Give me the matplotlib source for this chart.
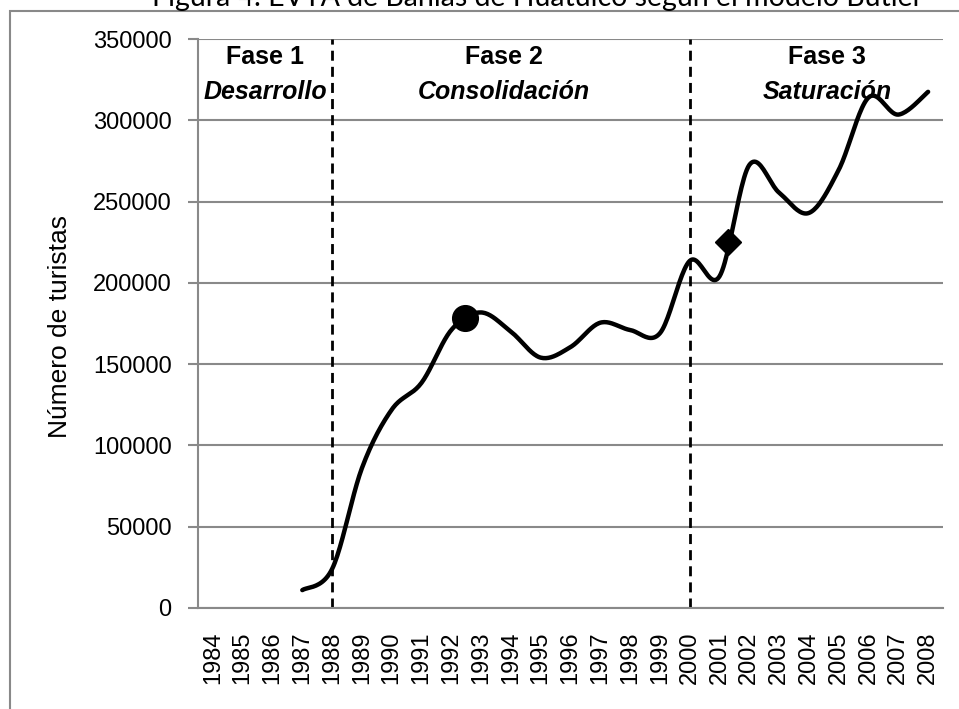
import matplotlib.pyplot as plt
from matplotlib.patches import Rectangle
import numpy as np

plt.rcParams['font.family'] = ['Liberation Sans', 'DejaVu Sans']

# Data: tourists per year
years = [str(y) for y in range(1984, 2009)]
turistas = [np.nan, np.nan, np.nan, 11000, 24000, 86000, 122000, 138500,
            171000, 181800, 170000, 154000, 160500, 175500, 171000, 169000,
            213500, 204000, 272500, 255500, 243000, 269500, 314000, 303500,
            317500]

# phase limits (category index) and labels
fase_limites = [4, 16]
fase_titulos = ['Fase 1', 'Fase 2', 'Fase 3']
fase_nombres = ['Desarrollo', 'Consolidación', 'Saturación']
fase_x = [1.75, 9.75, 20.6]

# marked points (category position, value)
circulo = (8.46, 178500)
rombo = (17.3, 225000)

yticks = [0, 50000, 100000, 150000, 200000, 250000, 300000, 350000]
grey = '#898989'

fig = plt.figure(figsize=(9.59, 7.09), dpi=100)
W, H = 959, 709
ax = fig.add_axes([198 / W, 1 - 608 / H, (943 - 198) / W, (608 - 39) / H])

# chart-area frame (cut by the image edges)
fig.patches.append(Rectangle((10 / W, -0.1), 1.2, 1 - 11 / H + 0.1,
                             transform=fig.transFigure, fill=False,
                             edgecolor=grey, linewidth=1.5))


# Excel-like smoothed line (Catmull-Rom Bezier)
def suavizar(xs, ys, n=24):
    px, py = [], []
    m = len(xs)
    for i in range(m - 1):
        x0, y0 = (xs[i - 1], ys[i - 1]) if i > 0 else (xs[i], ys[i])
        x1, y1 = xs[i], ys[i]
        x2, y2 = xs[i + 1], ys[i + 1]
        x3, y3 = (xs[i + 2], ys[i + 2]) if i + 2 < m else (x2, y2)
        c1x, c1y = x1 + (x2 - x0) / 6, y1 + (y2 - y0) / 6
        c2x, c2y = x2 - (x3 - x1) / 6, y2 - (y3 - y1) / 6
        t = np.linspace(0, 1, n)
        b0, b1, b2, b3 = (1 - t) ** 3, 3 * t * (1 - t) ** 2, 3 * t ** 2 * (1 - t), t ** 3
        px.extend(b0 * x1 + b1 * c1x + b2 * c2x + b3 * x2)
        py.extend(b0 * y1 + b1 * c1y + b2 * c2y + b3 * y2)
    return px, py


idx = [i for i, v in enumerate(turistas) if not np.isnan(v)]
vals = [turistas[i] for i in idx]
sx, sy = suavizar(idx, vals)
ax.plot(sx, sy, color='black', linewidth=3.2, solid_capstyle='round', zorder=3)

ax.plot([circulo[0]], [circulo[1]], marker='o', markersize=18.5, color='black', zorder=4)
ax.plot([rombo[0]], [rombo[1]], marker='D', markersize=13, color='black', zorder=4)

for xl in fase_limites:
    ax.axvline(xl, color='black', linewidth=2, dashes=(3.6, 2.2), zorder=2)

for x, t, n in zip(fase_x, fase_titulos, fase_nombres):
    ax.text(x, 338900, t, ha='center', va='center', fontsize=18, fontweight='bold')
    ax.text(x, 317400, n, ha='center', va='center', fontsize=18,
            fontweight='bold', fontstyle='italic')

ax.set_xlim(-0.5, 24.5)
ax.set_ylim(0, 350000)
ax.set_xticks(range(len(years)))
ax.set_xticklabels(years, rotation=90, fontsize=17)
ax.set_yticks(yticks)
ax.set_yticklabels([str(v) for v in yticks], fontsize=17)
ax.tick_params(axis='x', length=0, pad=17)
ax.tick_params(axis='y', length=7, width=1.5, color=grey, pad=12)
ax.grid(axis='y', color=grey, linewidth=1.5)
ax.set_axisbelow(True)
for s in ['top', 'right']:
    ax.spines[s].set_visible(False)
for s in ['left', 'bottom']:
    ax.spines[s].set_color(grey)
    ax.spines[s].set_linewidth(1.5)

fig.text(60 / W, 1 - 327 / H, 'Número de turistas', rotation=90,
         ha='center', va='center', fontsize=19)

# title, cut at the top edge as in the original
fig.text(537 / W, 1 - 6 / H, 'Figura 4. EVTA de Bahías de Huatulco según el modelo Butler',
         ha='center', va='baseline', fontsize=20.5, family=['Lato', 'DejaVu Sans'])

fig.savefig('out.png', dpi=100)
